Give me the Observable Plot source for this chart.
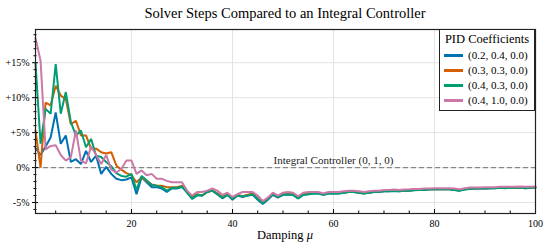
<!DOCTYPE html>
<html><head><meta charset="utf-8">
<script src="https://cdn.jsdelivr.net/npm/d3@7"></script>
<script src="https://cdn.jsdelivr.net/npm/@observablehq/plot@0.6"></script>
<style>
body{margin:0;background:#fff;font-family:"Liberation Serif","DejaVu Serif",serif;color:#000;}
#wrap{position:relative;width:550px;height:250px;}
#title{height:24px;line-height:27px;font-size:14.5px;text-align:center;margin-left:35px;width:500px;}
#legend{position:absolute;left:439px;top:29px;width:96px;height:82px;box-sizing:border-box;border:1px solid #222;background:#fff;font-family:"Liberation Serif",serif;}
#legend .lt{font-size:12.5px;text-align:center;margin-top:1px;height:17px;line-height:17px;}
#legend .row{height:15px;line-height:15px;font-size:11px;white-space:nowrap;position:relative;}
#legend .sw{position:absolute;left:4px;top:6px;width:19px;height:2.5px;}
#legend .lb{position:absolute;left:28px;top:0;}
#xlabel{position:absolute;left:35px;width:500px;top:228px;text-align:center;font-size:12.5px;font-family:"Liberation Serif",serif;}
#chart svg, #chart svg text{font-family:"Liberation Serif","DejaVu Serif",serif !important;}
</style>
</head><body>
<div id="wrap">
<div id="title">Solver Steps Compared to an Integral Controller</div>
<div id="chart"></div>
<div id="legend"></div>
<div id="xlabel">Damping <i>μ</i></div>
</div>
<script>
const damping = d3.range(1, 101);
const seriesNames = ["(0.2, 0.4, 0.0)", "(0.3, 0.3, 0.0)", "(0.4, 0.3, 0.0)", "(0.4, 1.0, 0.0)"];
const seriesColors = ["#0072B2", "#D55E00", "#009E73", "#CC79A7"];
const legendTitle = "PID Coefficients";

const blue = [2.8,1.8,3.0,4.3,7.9,3.4,4.6,0.8,1.2,0.5,
 2.4,0.8,1.7,-0.9,0.1,-0.9,-1.6,-1.8,-1.7,-1.4,
 -3.8,-1.4,-2.1,-2.8,-2.8,-3.0,-3.5,-3.0,-3.0,-2.8,
 -3.5,-4.5,-4.0,-4.0,-3.5,-3.3,-3.8,-4.4,-3.9,-4.6,
 -4.0,-4.2,-4.0,-3.9,-4.6,-5.2,-4.6,-3.9,-4.3,-3.9,
 -3.9,-3.9,-4.4,-3.9,-3.8,-3.7,-3.7,-3.9,-3.7,-3.7,
 -3.7,-3.6,-3.5,-3.5,-3.6,-3.7,-3.6,-3.5,-3.5,-3.4,
 -3.4,-3.3,-3.4,-3.3,-3.3,-3.2,-3.2,-3.2,-3.1,-3.1,
 -3.1,-3.1,-3.1,-3.2,-3.3,-3.1,-3.0,-3.0,-3.0,-3.0,
 -2.95,-2.95,-2.9,-2.9,-2.9,-2.9,-2.85,-2.95,-2.9,-2.85];
const orange = [5.3,0.0,9.3,8.9,11.7,10.3,9.8,6.2,6.7,4.6,
 4.6,2.7,2.7,2.2,2.0,2.2,0.3,-0.3,-0.8,-1.1,
 -2.1,-1.4,-1.9,-2.4,-2.6,-2.6,-2.8,-2.8,-2.8,-2.6,
 -3.5,-4.2,-3.8,-4.0,-3.5,-3.3,-3.7,-4.2,-3.8,-4.4,
 -3.9,-4.1,-3.9,-3.7,-4.4,-5.0,-4.4,-3.7,-4.2,-3.8,
 -3.7,-3.8,-4.3,-3.8,-3.7,-3.6,-3.6,-3.8,-3.6,-3.65,
 -3.65,-3.55,-3.45,-3.45,-3.55,-3.65,-3.55,-3.45,-3.4,-3.35,
 -3.35,-3.3,-3.35,-3.3,-3.25,-3.2,-3.2,-3.15,-3.1,-3.1,
 -3.05,-3.1,-3.1,-3.15,-3.25,-3.1,-3.0,-3.0,-2.95,-2.95,
 -2.95,-2.9,-2.9,-2.9,-2.85,-2.9,-2.85,-2.9,-2.85,-2.85];
const green = [15.0,3.4,8.4,7.7,14.8,7.7,10.8,6.5,4.6,5.3,
 2.9,4.1,1.7,1.5,0.8,0.2,-0.8,-1.2,-1.3,-0.9,
 -3.2,-1.2,-1.8,-2.5,-2.6,-2.8,-3.3,-2.9,-2.9,-2.7,
 -3.6,-4.4,-3.9,-4.0,-3.5,-3.3,-3.8,-4.3,-3.9,-4.5,
 -4.0,-4.1,-4.0,-3.8,-4.5,-5.1,-4.5,-3.8,-4.2,-3.9,
 -3.8,-3.9,-4.4,-3.9,-3.8,-3.7,-3.7,-3.9,-3.7,-3.7,
 -3.7,-3.6,-3.5,-3.5,-3.6,-3.7,-3.6,-3.5,-3.45,-3.4,
 -3.4,-3.35,-3.4,-3.3,-3.3,-3.25,-3.2,-3.2,-3.15,-3.1,
 -3.1,-3.1,-3.1,-3.2,-3.3,-3.15,-3.05,-3.0,-3.0,-3.0,
 -2.95,-2.95,-2.9,-2.95,-2.9,-2.9,-2.9,-2.95,-2.9,-2.85];
const pink = [18.5,15.3,2.6,3.1,3.2,1.8,1.0,1.5,5.3,1.0,
 0.6,3.0,1.8,0.5,1.8,-0.3,-0.7,-0.2,1.0,1.0,
 -0.9,-0.4,-1.1,-0.9,-1.6,-1.6,-1.9,-2.1,-2.1,-2.1,
 -3.3,-4.0,-3.5,-3.5,-3.3,-3.0,-3.3,-3.9,-3.6,-4.2,
 -3.8,-3.5,-3.5,-3.5,-4.0,-4.8,-4.3,-3.6,-4.0,-3.6,
 -3.5,-3.6,-4.1,-3.6,-3.5,-3.5,-3.5,-3.7,-3.5,-3.5,
 -3.5,-3.4,-3.3,-3.3,-3.4,-3.5,-3.4,-3.3,-3.3,-3.2,
 -3.2,-3.15,-3.2,-3.15,-3.1,-3.05,-3.05,-3.0,-3.0,-2.95,
 -2.95,-2.95,-2.95,-3.0,-3.1,-2.95,-2.85,-2.85,-2.85,-2.8,
 -2.8,-2.8,-2.75,-2.75,-2.75,-2.75,-2.7,-2.75,-2.75,-2.7];

const xMajor = [20, 40, 60, 80, 100];
const xMinor = [5, 10, 15, 25, 30, 35, 45, 50, 55, 65, 70, 75, 85, 90, 95];
const yMajor = [-5, 0, 5, 10, 15];
const yMinor = [-6,-4,-3,-2,-1,1,2,3,4,6,7,8,9,11,12,13,14,16,17,18,19];
const refValue = 0;
const refLabel = "Integral Controller (0, 1, 0)";
const refLabelAt = 60;

const allSeries = [blue, orange, green, pink];
const rows = allSeries.flatMap((s, k) => s.map((v, i) => ({x: damping[i], y: v, k: seriesNames[k]})));

const fmt = d => d > 0 ? `+${d}%` : `${d}%`;

const chart = Plot.plot({
  width: 550, height: 226,
  marginTop: 5, marginBottom: 37, marginLeft: 35, marginRight: 15,
  x: {domain: [1, 100]},
  y: {domain: [-6.57, 19.75]},
  color: {domain: seriesNames, range: seriesColors},
  style: {fontFamily: "Liberation Serif", fontSize: "10px", background: "white", color: "black"},
  marks: [
    Plot.gridX(xMajor, {stroke: "#e3e3e3", strokeOpacity: 1}),
    Plot.gridY(yMajor, {stroke: "#e3e3e3", strokeOpacity: 1}),
    Plot.ruleY([refValue], {stroke: "#888", strokeWidth: 1.2, strokeDasharray: "5,3"}),
    Plot.text([refLabel], {x: refLabelAt, y: refValue, text: d => d, dy: -7, fontSize: 11, fill: "#222"}),
    Plot.line(rows, {x: "x", y: "y", z: "k", stroke: "k", strokeWidth: 2, strokeLinejoin: "miter"}),
    Plot.axisY(yMajor, {tickSize: 6, insetLeft: 3, tickPadding: 3, tickFormat: fmt, label: null, fontSize: 10}),
    Plot.axisY(yMinor, {tickSize: 3, insetLeft: 1.5, tickFormat: () => "", label: null}),
    Plot.axisX(xMajor, {tickSize: 4, insetBottom: 4, tickPadding: 6, label: null, fontSize: 10}),
    Plot.axisX(xMinor, {tickSize: 2.5, insetBottom: 2.5, tickFormat: () => "", label: null}),
    Plot.frame({stroke: "#222", strokeWidth: 1.2})
  ]
});
document.getElementById("chart").appendChild(chart);

const lg = document.getElementById("legend");
const t = document.createElement("div"); t.className = "lt"; t.textContent = legendTitle; lg.appendChild(t);
seriesNames.forEach((n, i) => {
  const r = document.createElement("div"); r.className = "row";
  const s = document.createElement("span"); s.className = "sw"; s.style.background = seriesColors[i];
  const l = document.createElement("span"); l.className = "lb"; l.textContent = n;
  r.appendChild(s); r.appendChild(l); lg.appendChild(r);
});
</script>
</body></html>
